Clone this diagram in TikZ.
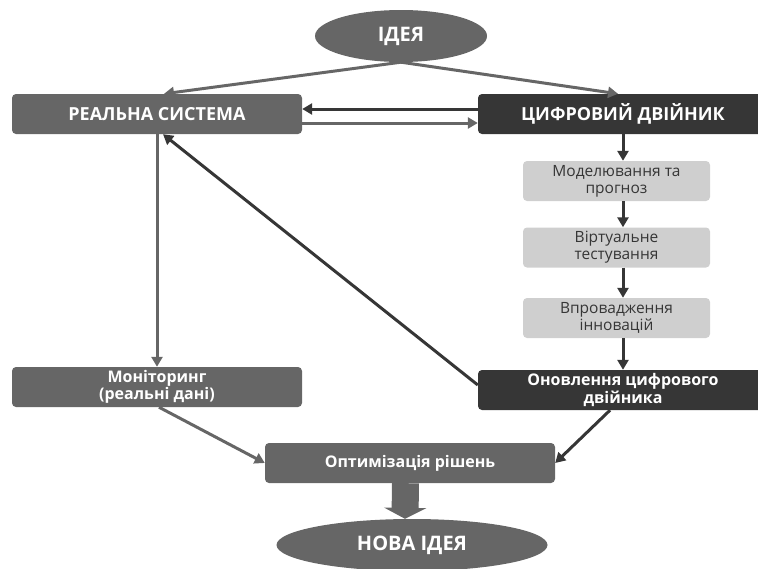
\documentclass[tikz,border=0pt]{standalone}
\usepackage{fontspec}
\setmainfont{Open Sans}
\usepackage{xcolor}
\usepackage{tikz}
\usetikzlibrary{arrows,arrows.meta,shapes}

\definecolor{midgray}{HTML}{666666}
\definecolor{darkgray}{HTML}{363636}
\definecolor{palegray}{HTML}{CFCFCF}

\begin{document}
\begin{tikzpicture}[x=1pt, y=-1pt, >={Triangle[length=10pt, width=11pt]},
	box/.style={rectangle, rounded corners=4pt, minimum width=290pt, minimum height=40pt, inner sep=1pt, align=center, text=white, font=\bfseries},
	graybox/.style={box, fill=midgray},
	darkbox/.style={box, fill=darkgray},
	stepbox/.style={box, fill=palegray, minimum width=187pt, minimum height=40pt, text=darkgray, font=\fontsize{15.5}{17}\selectfont},
	oval/.style={ellipse, fill=midgray, text=white, inner sep=0pt, font=\bfseries},
	grayline/.style={->, draw=midgray, line width=3pt},
	darkline/.style={->, draw=darkgray, line width=3pt}]

\useasboundingbox (0,0) rectangle (758,568);

% ideas
\node[oval, minimum width=172pt, minimum height=52pt, font=\bfseries\fontsize{20}{21}\selectfont] (idea) at (401,36) {ІДЕЯ};
\node[oval, minimum width=271pt, minimum height=52pt, font=\bfseries\fontsize{20}{21}\selectfont] (newidea) at (412,545) {НОВА ІДЕЯ};

% main boxes
\node[graybox, font=\bfseries\fontsize{18}{19}\selectfont] (real) at (157,114) {РЕАЛЬНА СИСТЕМА};
\node[darkbox, font=\bfseries\fontsize{18}{19}\selectfont] (twin) at (623,114) {ЦИФРОВИЙ ДВІЙНИК};

% twin steps
\node[stepbox] (model) at (616.5,181) {Моделювання та\\прогноз};
\node[stepbox] (test) at (616.5,247.5) {Віртуальне\\тестування};
\node[stepbox] (innov) at (616.5,318) {Впровадження\\інновацій};

\node[darkbox, font=\bfseries\fontsize{16}{15}\selectfont] (update) at (623,390) {Оновлення цифрового\\двійника};
\node[graybox, font=\bfseries\fontsize{16}{15}\selectfont] (monit) at (157,387) {Моніторинг\\(реальні дані)};
\node[graybox, font=\bfseries\fontsize{16}{17}\selectfont] (optim) at (410,463) {Оптимізація рішень};

% connectors
\draw[grayline] (idea.south) -- ([xshift=7pt]real.north);
\draw[grayline] (idea.south) -- ([xshift=-5pt]twin.north);
\draw[darkline] ([yshift=5pt]twin.west) -- ([yshift=5pt]real.east);
\draw[grayline] ([yshift=-9pt]real.east) -- ([yshift=-9pt]twin.west);
\draw[grayline] (real.south) -- (monit.north);

\draw[darkline] (twin.south) -- ([xshift=6.5pt]model.north);
\draw[darkline] ([xshift=6.5pt]model.south) -- ([xshift=6.5pt]test.north);
\draw[darkline] ([xshift=6.5pt]test.south) -- ([xshift=6.5pt]innov.north);
\draw[darkline] ([xshift=6.5pt]innov.south) -- (update.north);
\draw[darkline] ([yshift=5pt]update.west) -- ([xshift=6pt]real.south);

\draw[grayline] ([xshift=2pt]monit.south) -- (optim.west);
\draw[darkline] ([xshift=-13pt]update.south) -- (optim.east);

% big arrow
\draw[draw=midgray, line width=27pt, -{Triangle[width=42pt, length=11pt]}] ([xshift=-4.5pt]optim.south) -- ([xshift=-7pt]newidea.north);

\end{tikzpicture}
\end{document}
